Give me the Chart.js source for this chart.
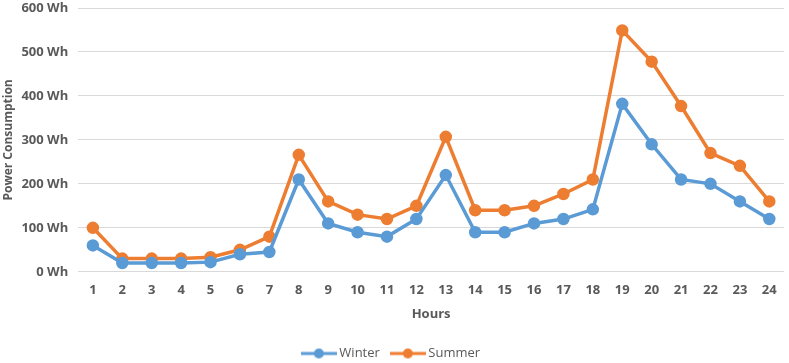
<!DOCTYPE html>
<html>
<head>
<meta charset="utf-8">
<script src="https://cdn.jsdelivr.net/npm/chart.js@4"></script>
<style>
  html, body { margin: 0; padding: 0; background: #fff; }
  #wrap { width: 789px; height: 363px; }
</style>
</head>
<body>
<div id="wrap"><canvas id="chart"></canvas></div>
<script>
const hours = ['1','2','3','4','5','6','7','8','9','10','11','12','13','14','15','16','17','18','19','20','21','22','23','24'];
const winter = [60, 20, 20, 20, 22, 40, 45, 210, 110, 90, 80, 120, 220, 90, 90, 110, 120, 142, 382, 290, 210, 200, 160, 120];
const summer = [100, 30, 30, 30, 33, 50, 80, 266, 160, 130, 120, 150, 307, 140, 140, 150, 177, 210, 549, 478, 377, 270, 241, 160];

const blue = '#5B9BD5';
const orange = '#ED7D31';
const grey = '#595959';

// legend marker: short line with a dot in the middle
function legendMarker(color) {
    const c = document.createElement('canvas');
    c.width = 36; c.height = 12;
    const ctx = c.getContext('2d');
    ctx.strokeStyle = color;
    ctx.lineWidth = 3;
    ctx.beginPath();
    ctx.moveTo(0, 6); ctx.lineTo(36, 6);
    ctx.stroke();
    ctx.fillStyle = color;
    ctx.beginPath();
    ctx.arc(18, 6, 5, 0, Math.PI * 2);
    ctx.fill();
    return c;
}

new Chart(document.getElementById('chart').getContext('2d'), {
    type: 'line',
    data: {
        labels: hours,
        datasets: [{
            label: 'Winter',
            data: winter,
            borderColor: blue,
            backgroundColor: blue,
            borderWidth: 3.5,
            pointRadius: 4.5,
            pointHoverRadius: 4.5,
            tension: 0
        }, {
            label: 'Summer',
            data: summer,
            borderColor: orange,
            backgroundColor: orange,
            borderWidth: 3.5,
            pointRadius: 4.5,
            pointHoverRadius: 4.5,
            tension: 0
        }]
    },
    options: {
        responsive: true,
        maintainAspectRatio: false,
        animation: false,
        layout: { autoPadding: false, padding: { top: 0, right: 5, left: 1, bottom: -7 } },
        plugins: {
            tooltip: { enabled: false },
            legend: {
                position: 'bottom',
                labels: {
                    color: grey,
                    font: { family: 'Open Sans', size: 13 },
                    usePointStyle: true,
                    pointStyleWidth: 28,
                    padding: 14,
                    generateLabels: chart => chart.data.datasets.map((ds, i) => ({
                        text: ds.label,
                        fillStyle: ds.borderColor,
                        strokeStyle: ds.borderColor,
                        pointStyle: legendMarker(ds.borderColor),
                        datasetIndex: i,
                        fontColor: grey
                    }))
                }
            }
        },
        scales: {
            x: {
                offset: true,
                afterFit: s => { s.paddingLeft = 0; s.paddingRight = 0; },
                grid: { display: false, drawTicks: false },
                border: { display: false },
                ticks: {
                    color: grey,
                    padding: 11,
                    maxRotation: 0,
                    font: { family: 'Open Sans', size: 13, weight: 'bold' }
                },
                title: {
                    display: true,
                    text: 'Hours',
                    color: grey,
                    padding: { top: -3, bottom: 11 },
                    font: { family: 'Open Sans', size: 13, weight: 'bold' }
                }
            },
            y: {
                min: 0,
                max: 600,
                afterFit: s => { s.paddingTop = 8; },
                grid: { color: '#D9D9D9', lineWidth: 1, drawTicks: false },
                border: { display: false },
                ticks: {
                    stepSize: 100,
                    color: grey,
                    padding: 10,
                    font: { family: 'Open Sans', size: 13, weight: 'bold' },
                    callback: v => v + ' Wh'
                },
                title: {
                    display: true,
                    text: 'Power Consumption',
                    color: grey,
                    padding: { top: 0, bottom: -4 },
                    font: { family: 'Open Sans', size: 12, weight: 'bold' }
                }
            }
        }
    }
});
</script>
</body>
</html>
